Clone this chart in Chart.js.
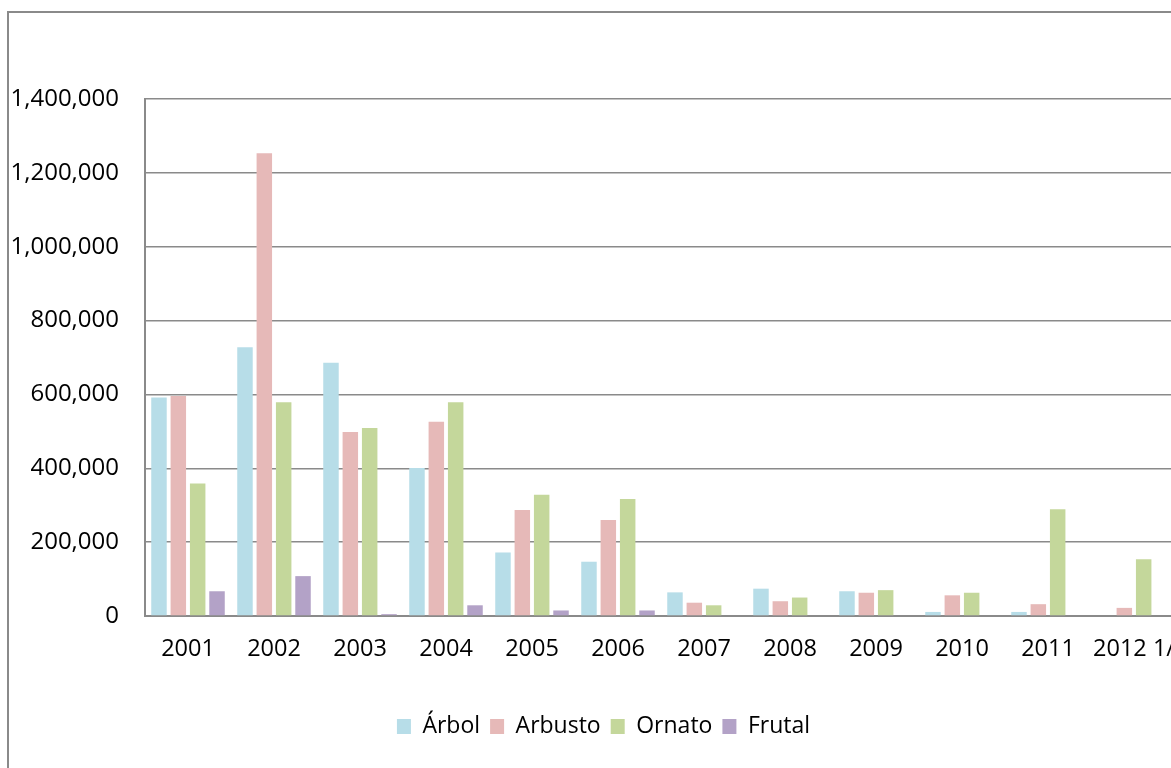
<!DOCTYPE html>
<html>
<head>
<meta charset="utf-8">
<script src="https://cdn.jsdelivr.net/npm/chart.js@4.4.1/dist/chart.umd.min.js"></script>
<style>
  html, body { margin: 0; padding: 0; background: #fff; overflow: hidden; width: 1171px; height: 768px; }
  #wrap { position: absolute; left: 7px; top: 11px; width: 1192px; height: 780px; border: 2px solid #8a8a8a; background: #fff; }
  canvas { display: block; }
</style>
</head>
<body>
<div id="wrap"><canvas id="c" width="1192" height="780"></canvas></div>
<script>
const categories = ['2001','2002','2003','2004','2005','2006','2007','2008','2009','2010','2011','2012 1/'];
const arbol    = [592000, 728000, 686000, 401000, 172000, 147000, 64000, 74000, 67000, 11000, 11000, 0];
const arbusto  = [596000, 1253000, 498000, 526000, 287000, 260000, 36000, 40000, 63000, 56000, 32000, 22000];
const ornato   = [359000, 579000, 509000, 579000, 328000, 317000, 29000, 50000, 70000, 63000, 289000, 154000];
const frutal   = [67000, 108000, 5000, 29000, 15000, 15000, 0, 0, 0, 0, 0, 0];
const seriesNames = ['Árbol', 'Arbusto', 'Ornato', 'Frutal'];
const yTicks = [0, 200000, 400000, 600000, 800000, 1000000, 1200000, 1400000];

const colors = ['#B7DDE8', '#E6B9B8', '#C4D79B', '#B3A2C7'];
const seriesData = [arbol, arbusto, ornato, frutal];

const fam = "'Open Sans', 'Noto Sans', sans-serif";

const legendShift = {
  id: 'legendShift',
  afterLayout(chart) {
    if (chart.legend) { chart.legend.left += 10; chart.legend.right += 10; }
  }
};

new Chart(document.getElementById('c'), {
  type: 'bar',
  data: {
    labels: categories,
    datasets: seriesData.map((d, i) => ({
      label: seriesNames[i],
      data: d,
      backgroundColor: colors[i],
      borderWidth: 0,
      categoryPercentage: 0.9,
      barPercentage: 0.8
    }))
  },
  plugins: [legendShift],
  options: {
    responsive: false,
    animation: false,
    devicePixelRatio: 1,
    layout: { padding: { left: 1, right: 24, top: 86, bottom: 45 } },
    plugins: {
      tooltip: { enabled: false },
      title: { display: false },
      legend: {
        position: 'bottom',
        labels: {
          color: '#000',
          font: { family: fam, size: 23 },
          boxWidth: 14,
          boxHeight: 15,
          padding: 10
        }
      }
    },
    scales: {
      x: {
        grid: { display: false, drawTicks: false },
        border: { display: true, color: '#8a8a8a', width: 2 },
        ticks: { color: '#000', font: { family: fam, size: 23.5 }, padding: 19, maxRotation: 0, autoSkip: false },
        afterFit: (s) => { s.height = 89; }
      },
      y: {
        min: 0,
        max: 1400000,
        afterBuildTicks: (s) => { s.ticks = yTicks.map(v => ({ value: v })); },
        grid: { color: '#8a8a8a', lineWidth: 1.5, drawTicks: false },
        border: { display: true, color: '#8a8a8a', width: 2 },
        ticks: {
          color: '#000',
          font: { family: fam, size: 24 },
          padding: 26,
          callback: (v) => v.toLocaleString('en-US')
        },
        afterFit: (s) => { s.width = 135; }
      }
    }
  }
});
</script>
</body>
</html>
